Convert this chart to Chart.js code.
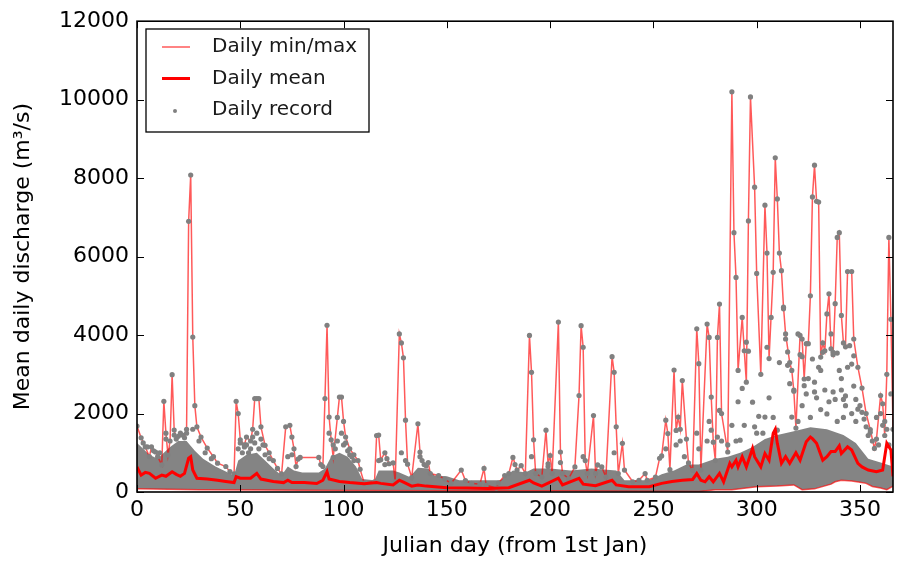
<!DOCTYPE html>
<html lang="en">
<head>
<meta charset="UTF-8">
<script src="https://cdn.jsdelivr.net/npm/chart.js@4.4.1/dist/chart.umd.min.js"></script>
<title>Daily discharge</title>
<style>
  body { margin: 0; background: #fff; }
  #wrap { width: 897px; height: 563px; }
</style>
</head>
<body>
<div id="wrap"><canvas id="flow" width="897" height="563"></canvas></div>
<script>
// axis ticks
const xTicks = [0, 50, 100, 150, 200, 250, 300, 350];
const yTicks = [0, 2000, 4000, 6000, 8000, 10000, 12000];

// daily max
const maxDays = [0,2,4,6,7,9,10,12,13,14,15,16,17,18,19,20,22,23,24,25,26,27,28,29,31,34,37,39,43,45,47,48,49,50,52,53,55,56,57,58,59,60,62,64,66,68,70,72,74,75,76,77,78,79,88,89,90,91,92,93,94,95,97,98,99,100,101,103,105,107,108,110,115,116,117,118,120,121,122,124,125,127,128,129,130,131,133,136,137,138,140,141,142,146,149,152,157,159,162,166,168,169,174,175,178,180,182,184,186,188,190,191,192,193,196,198,199,200,201,204,205,206,209,212,214,215,216,217,218,221,222,223,225,227,230,231,232,233,235,236,240,243,246,247,251,253,254,256,257,258,260,261,262,263,264,266,267,269,271,272,273,276,277,278,279,280,281,282,283,286,288,289,290,291,293,294,295,296,297,299,300,302,304,305,306,308,309,310,311,312,313,314,316,317,318,319,321,322,323,324,325,326,327,328,329,330,331,332,333,334,335,336,337,338,339,340,341,342,343,344,346,347,349,351,353,355,357,358,360,361,362,363,364,365,366];
const maxFlow = [1680,1380,1150,900,1150,1020,900,690,2310,1500,940,1300,2990,1580,1350,1420,1450,1380,1600,6900,8080,3950,2200,1660,1400,1120,900,735,650,520,460,2310,2000,1330,1200,1400,1300,1600,2380,2380,2380,1660,1190,1000,800,600,460,1660,1700,1400,1100,650,840,880,880,700,650,2380,4250,1910,1330,880,1900,2420,2420,1800,1400,1100,950,800,580,230,260,1440,1450,820,1000,850,720,740,260,4030,3800,3420,1830,710,370,1740,1020,800,670,750,470,420,330,220,560,290,220,200,600,170,100,230,420,470,880,560,670,470,3990,3050,1330,470,380,1575,720,930,470,4330,1020,470,340,640,2460,4240,3690,800,470,1950,470,690,640,380,3450,3050,1660,470,1240,560,260,300,470,300,380,860,920,1830,1490,570,3110,1570,1910,1600,2840,1350,740,550,4160,3270,560,4280,3940,2420,1270,800,3940,4790,2000,1020,10200,6610,5470,3100,4450,3600,2800,6910,10070,7770,5570,3000,7310,6090,3400,5600,8520,7470,6090,5640,4710,4030,3300,3100,2570,1630,3990,3900,2880,3780,3780,5000,7520,8330,7410,7390,3440,3800,3600,4540,5050,3650,3500,4800,6490,6610,4500,3800,3700,5620,5620,3900,3180,2650,2000,1590,1110,1350,2460,2250,1440,3000,6490,4400,1600];

// daily mean
const meanDays = [0,2,4,6,9,12,14,17,19,21,23,25,26,27,29,34,39,43,47,48,50,55,58,60,66,71,73,75,81,87,90,92,93,98,103,110,116,118,124,127,129,133,136,140,150,160,170,180,190,192,196,204,206,214,216,222,230,232,238,248,254,259,264,269,271,273,275,277,279,282,284,287,288,290,291,293,295,298,299,302,304,306,308,309,310,312,314,316,319,321,324,326,327,329,332,334,336,338,340,341,344,346,349,351,354,358,361,363,365,366];
const meanFlow = [640,430,500,475,350,430,400,515,450,400,475,860,900,560,350,330,300,270,240,390,350,350,475,330,270,240,300,240,240,215,300,515,330,270,240,210,240,220,180,300,250,150,180,150,110,100,90,110,300,230,150,350,180,350,200,160,300,180,135,135,220,270,300,320,470,300,260,390,260,475,260,730,640,810,640,900,640,1110,900,640,980,810,1500,1600,1240,730,900,730,1000,810,1280,1400,1360,1240,810,900,1030,1030,1180,980,1150,1070,730,640,560,520,560,1240,1070,400];

// daily min
const minDays = [0,30,60,100,150,200,250,272,280,288,300,310,318,322,328,336,338,341,346,350,353,356,360,363,366];
const minFlow = [80,60,50,40,30,30,20,10,60,60,135,150,180,60,80,200,260,300,280,250,220,140,100,60,150];

// top of the dense band of daily records
const bandDays = [0,3,6,10,13,16,20,24,28,32,38,44,47,49,53,58,62,66,70,73,76,80,88,91,94,98,102,106,109,115,117,124,127,132,136,141,144,150,156,176,182,188,192,200,210,220,232,236,248,254,260,266,272,280,286,292,298,304,310,318,326,334,342,348,354,360,366];
const bandTop = [1250,1100,950,850,1000,1150,1300,1300,1050,850,650,500,420,800,950,1000,800,600,420,650,550,500,500,600,900,1000,900,650,330,300,550,550,500,380,620,600,420,400,300,300,550,500,600,600,550,600,550,300,300,450,550,700,700,850,900,1000,1150,1350,1450,1550,1650,1600,1450,1250,850,750,650];

// single daily records above the band
const recDays = [3,5,8,11,14,18,21,24,27,30,33,36,49,50,51,52,53,54,55,56,57,58,59,60,61,62,64,73,75,93,95,96,97,99,100,101,102,103,104,105,117,120,128,130,137,139,183,191,199,205,216,231,256,261,263,265,271,272,276,277,278,281,282,283,286,288,290,291,292,293,294,295,296,298,299,300,301,303,304,305,306,307,308,309,310,311,313,314,315,315,316,317,318,320,320,321,322,322,323,324,325,326,327,328,328,329,330,331,331,332,333,334,335,336,337,337,338,339,339,340,341,341,342,342,343,343,344,345,346,346,347,347,348,348,349,350,351,352,353,354,355,356,358,359,360,361,362,363,364,365];
const recFlow = [1250,1150,1050,1000,1350,1450,1500,1500,1600,1300,1000,850,1100,1250,1000,1150,1200,1000,1100,1400,1250,1500,1100,1350,1200,950,850,900,950,1500,1200,1100,1300,1500,1200,1250,1050,950,900,800,800,700,1000,800,900,700,700,900,650,750,900,1000,1100,1200,1300,900,1500,1100,1300,1800,1575,1400,2080,1300,1200,1700,1300,2300,1320,2640,1700,3820,3590,2290,1660,1500,1930,1500,1910,3690,2400,4450,1900,1270,1575,3300,4670,3900,3570,3230,2760,1910,2600,4030,1800,3500,3450,2200,2710,2500,2890,1900,3390,2800,2550,2400,3180,2100,3100,3560,2600,1990,2300,4030,3560,2550,2360,3540,1800,3100,2890,2600,2360,1900,2450,2200,3180,3730,3260,2000,3470,2700,2360,1800,2110,2200,2030,1860,1660,1440,1520,1300,1900,1200,2000,1700,1800,1600,1200,2500];

const pts = (xs, ys) => xs.map((x, i) => ({ x: x, y: ys[i] }));

const frame = {
  id: 'frame',
  afterDatasetsDraw(chart) {
    const ctx = chart.ctx, a = chart.chartArea;
    const sx = chart.scales.x, sy = chart.scales.y;
    ctx.save();
    ctx.strokeStyle = '#000';
    ctx.lineWidth = 1;
    ctx.beginPath();
    xTicks.forEach(v => {
      const p = Math.round(sx.getPixelForValue(v)) + 0.5;
      ctx.moveTo(p, a.bottom); ctx.lineTo(p, a.bottom - 7);
      ctx.moveTo(p, a.top); ctx.lineTo(p, a.top + 7);
    });
    yTicks.forEach(v => {
      const p = Math.round(sy.getPixelForValue(v)) + 0.5;
      ctx.moveTo(a.left, p); ctx.lineTo(a.left + 7, p);
      ctx.moveTo(a.right, p); ctx.lineTo(a.right - 7, p);
    });
    ctx.stroke();
    ctx.lineWidth = 1.6;
    ctx.strokeRect(a.left, a.top, a.right - a.left, a.bottom - a.top);
    ctx.restore();
  },
  afterDraw(chart) {
    // legend box like the original
    const ctx = chart.ctx;
    const x0 = 146, y0 = 29, w = 223, h = 103;
    ctx.save();
    ctx.fillStyle = '#fff';
    ctx.fillRect(x0, y0, w, h);
    ctx.strokeStyle = '#000';
    ctx.lineWidth = 1.3;
    ctx.strokeRect(x0, y0, w, h);
    const rows = [47, 78.5, 110];
    ctx.strokeStyle = 'rgba(255,0,0,0.65)';
    ctx.lineWidth = 1.5;
    ctx.beginPath(); ctx.moveTo(162, rows[0]); ctx.lineTo(190, rows[0]); ctx.stroke();
    ctx.strokeStyle = '#ff0000';
    ctx.lineWidth = 3;
    ctx.beginPath(); ctx.moveTo(162, rows[1]); ctx.lineTo(190, rows[1]); ctx.stroke();
    ctx.fillStyle = '#808080';
    ctx.beginPath(); ctx.arc(175, rows[2] + 1, 2, 0, Math.PI * 2); ctx.fill();
    ctx.fillStyle = '#1a1a1a';
    ctx.font = '20px "DejaVu Sans"';
    ctx.textBaseline = 'middle';
    ctx.fillText('Daily min/max', 212, rows[0]);
    ctx.fillText('Daily mean', 212, rows[1]);
    ctx.fillText('Daily record', 212, rows[2]);
    ctx.restore();
  }
};

Chart.defaults.font.family = '"DejaVu Sans", sans-serif';
Chart.defaults.color = '#000';

new Chart(document.getElementById('flow'), {
  type: 'line',
  data: {
    datasets: [
      { label: 'Daily mean', data: pts(meanDays, meanFlow), borderColor: '#ff0000', borderWidth: 3, pointRadius: 0, order: 0 },
      { label: 'Daily record', data: pts(maxDays, maxFlow).concat(pts(recDays, recFlow)), showLine: false,
        pointRadius: 2.6, pointBackgroundColor: '#808080', pointBorderWidth: 0, order: 1 },
      { label: 'Daily min/max', data: pts(maxDays, maxFlow), borderColor: 'rgba(255,0,0,0.65)', borderWidth: 1.5, pointRadius: 0, order: 2 },
      { label: 'min', data: pts(minDays, minFlow), borderColor: 'rgba(255,0,0,0.65)', borderWidth: 1.5, pointRadius: 0, order: 2 },
      { label: 'band', data: pts(bandDays, bandTop), borderWidth: 0, borderColor: 'rgba(0,0,0,0)', pointRadius: 0,
        backgroundColor: '#848484', fill: 3, order: 3 }
    ]
  },
  options: {
    responsive: false,
    animation: false,
    layout: { padding: { top: 19, right: 3, left: 0, bottom: 0 } },
    plugins: { legend: { display: false }, tooltip: { enabled: false } },
    elements: { line: { tension: 0 } },
    scales: {
      x: {
        type: 'linear', min: 0, max: 366,
        afterBuildTicks: s => { s.ticks = xTicks.map(v => ({ value: v })); },
        afterFit: s => { s.height = 71; },
        grid: { display: false, drawTicks: false },
        border: { display: false },
        ticks: { font: { size: 22 }, padding: 5, maxRotation: 0, callback: v => String(v) },
        title: { display: true, text: 'Julian day (from 1st Jan)', font: { size: 22 }, padding: { top: 0, bottom: 4 } }
      },
      y: {
        type: 'linear', min: 0, max: 12000,
        afterBuildTicks: s => { s.ticks = yTicks.map(v => ({ value: v })); },
        afterFit: s => { s.width = 137; },
        grid: { display: false, drawTicks: false },
        border: { display: false },
        ticks: { font: { size: 22 }, padding: 8, callback: v => String(v) },
        title: { display: true, text: 'Mean daily discharge (m³/s)', font: { size: 22 }, padding: { top: 10, bottom: 0 } }
      }
    }
  },
  plugins: [frame]
});
</script>
</body>
</html>
